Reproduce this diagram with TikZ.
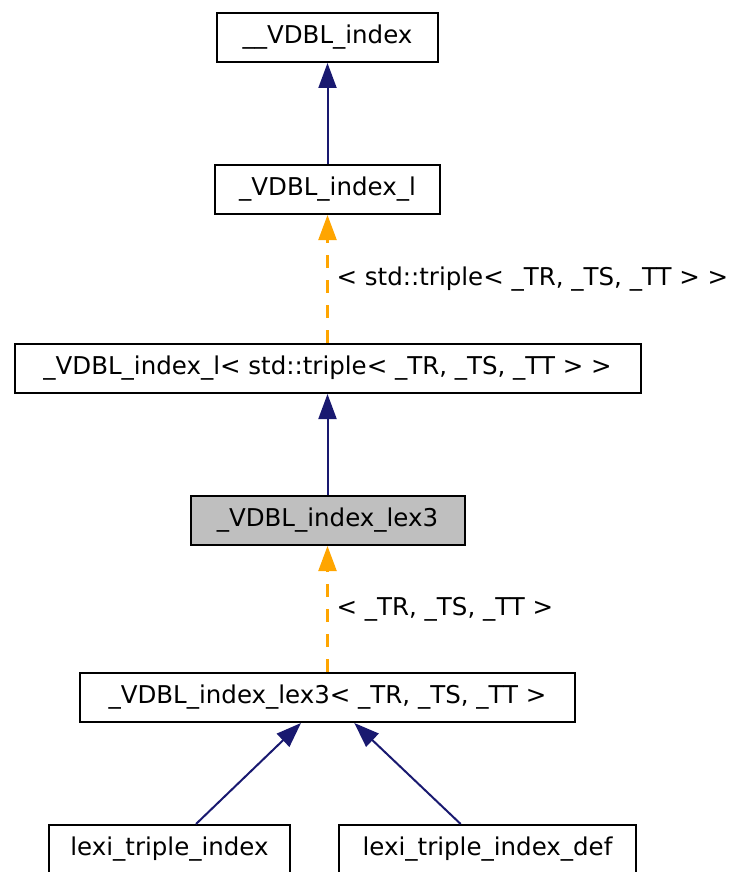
\documentclass[tikz,border=0pt]{standalone}
\usepackage{fontspec}
\setmainfont{DejaVu Sans}
\usetikzlibrary{arrows.meta, positioning}
\definecolor{edgeblue}{HTML}{191970}
\definecolor{edgeorange}{HTML}{FFA500}
\definecolor{focusgray}{HTML}{BFBFBF}
\tikzstyle{classbox} = [draw, line width=2pt, minimum height=49pt, inner xsep=0pt, font=\fontsize{24.5}{28}\selectfont]
\tikzstyle{inherit} = [line width=2pt, draw=edgeblue, -{Triangle[length=25pt,width=18pt,fill=edgeblue]}]
\tikzstyle{templ} = [line width=2.2pt, draw=edgeorange, dash pattern=on 13pt off 12pt, -{Triangle[length=25pt,width=18pt,fill=edgeorange]}]
\tikzstyle{edgelabel} = [right, xshift=8pt, inner sep=0pt, text=black, font=\fontsize{24.5}{28}\selectfont]

\begin{document}
\begin{tikzpicture}[x=1pt, y=-1pt]
        \useasboundingbox (0,0) rectangle (737,872);

        % Base classes
        \node[classbox, minimum width=221pt] (vidx) at (327.5,37.5) {\_\_VDBL\_index};
        \node[classbox, minimum width=225pt, below=101pt of vidx] (vidxl) {\_VDBL\_index\_l};
        \node[classbox, minimum width=626pt, below=128pt of vidxl] (vidxltriple) {\_VDBL\_index\_l< std::triple< \_TR, \_TS, \_TT > >};

        % Documented class
        \node[classbox, minimum width=274pt, fill=focusgray, below=101pt of vidxltriple] (lexthree) {\_VDBL\_index\_lex3};
        \node[classbox, minimum width=495pt, below=126pt of lexthree] (lexthreetpl) {\_VDBL\_index\_lex3< \_TR, \_TS, \_TT >};

        % Derived classes
        \node[classbox, minimum width=241pt, below=101pt of lexthreetpl, xshift=-158pt] (ltindex) {lexi\_triple\_index};
        \node[classbox, minimum width=297pt, below=101pt of lexthreetpl, xshift=160pt] (ltindexdef) {lexi\_triple\_index\_def};

        % Arrows
        \draw[inherit] (vidxl) -- (vidx);
        \draw[templ] (vidxltriple) -- (vidxl)
        node[midway, edgelabel] {< std::triple< \_TR, \_TS, \_TT > >};
        \draw[inherit] (lexthree) -- (vidxltriple);
        \draw[templ] (lexthreetpl) -- (lexthree)
        node[midway, edgelabel] {< \_TR, \_TS, \_TT >};
        \draw[inherit] (ltindex) -- (lexthreetpl);
        \draw[inherit] (ltindexdef) -- (lexthreetpl);
    \end{tikzpicture}
\end{document}
